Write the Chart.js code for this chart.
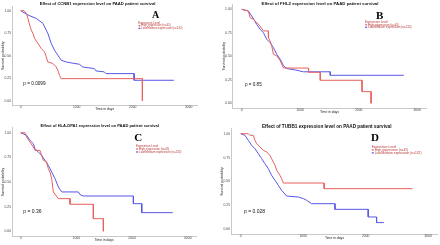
<!DOCTYPE html>
<html>
<head>
<meta charset="utf-8">
<script src="https://cdn.jsdelivr.net/npm/chart.js@4.4.0/dist/chart.umd.min.js"></script>
<style>
html, body { margin: 0; padding: 0; background: #fff; }
#wrap { position: relative; width: 440px; height: 245px; overflow: hidden; background: #fff; }
#wrap canvas { position: absolute; }
</style>
</head>
<body>
<div id="wrap">
    <canvas id="panelA" width="220" height="122" style="left:0;top:0"></canvas>
    <canvas id="panelB" width="220" height="122" style="left:220px;top:0"></canvas>
    <canvas id="panelC" width="220" height="123" style="left:0;top:122px"></canvas>
    <canvas id="panelD" width="220" height="123" style="left:220px;top:122px"></canvas>
</div>
<script>
// axis ticks
const yTicks = [0, 0.25, 0.5, 0.75, 1];
const xTicks = [0, 1000, 2000, 3000];

const genes = ['CCNB1', 'FHL2', 'HLA-DPA1', 'TUBB1'];
const panelLetters = ['A', 'B', 'C', 'D'];
const pValues = ['0.0099', '0.85', '0.36', '0.028'];
const seriesLabels = ['High expression (n=45)', 'Low/Medium expression (n=132)'];

// CCNB1
const ccnb1HighTime = [0, 60, 101, 130, 160, 189, 219, 249, 308, 367, 426, 456, 485, 574, 634, 663, 693, 722, 2173, 2173];
const ccnb1HighSurv = [1, 1, 0.97, 0.914, 0.84, 0.784, 0.747, 0.691, 0.636, 0.58, 0.543, 0.487, 0.431, 0.413, 0.375, 0.338, 0.283, 0.245, 0.245, 0];
const ccnb1LowTime = [0, 130, 278, 397, 485, 545, 604, 663, 722, 811, 900, 1048, 1107, 1314, 1344, 1492, 1522, 2025, 2025, 2735];
const ccnb1LowSurv = [1, 0.952, 0.914, 0.859, 0.747, 0.636, 0.561, 0.506, 0.45, 0.431, 0.42, 0.405, 0.375, 0.357, 0.331, 0.32, 0.301, 0.301, 0.227, 0.227];

// FHL2
const fhl2HighTime = [0, 114, 143, 200, 257, 314, 371, 457, 457, 486, 514, 543, 600, 657, 714, 1143, 1143, 1343, 1343, 2057, 2057, 2211, 2211];
const fhl2HighSurv = [1, 0.982, 0.911, 0.894, 0.858, 0.823, 0.77, 0.77, 0.699, 0.663, 0.61, 0.521, 0.504, 0.455, 0.375, 0.375, 0.33, 0.33, 0.245, 0.245, 0.124, 0.124, 0];
const fhl2LowTime = [0, 114, 171, 257, 314, 371, 429, 486, 543, 600, 657, 714, 771, 914, 1057, 1514, 1514, 2771];
const fhl2LowSurv = [1, 0.982, 0.929, 0.84, 0.787, 0.752, 0.681, 0.645, 0.592, 0.521, 0.47, 0.4, 0.37, 0.355, 0.335, 0.335, 0.298, 0.298];

// HLA-DPA1
const hlaHighTime = [0, 78, 108, 168, 228, 257, 347, 377, 407, 467, 497, 527, 557, 587, 677, 886, 886, 1305, 1305, 1485, 1485];
const hlaHighSurv = [1, 1, 0.956, 0.905, 0.855, 0.821, 0.821, 0.77, 0.72, 0.703, 0.635, 0.601, 0.534, 0.399, 0.331, 0.331, 0.274, 0.274, 0.128, 0.128, 0];
const hlaLowTime = [0, 108, 168, 228, 257, 317, 377, 437, 497, 557, 617, 677, 737, 1036, 1066, 1126, 2024, 2024, 2174, 2174, 2731];
const hlaLowSurv = [1, 0.973, 0.922, 0.889, 0.838, 0.804, 0.77, 0.72, 0.669, 0.601, 0.534, 0.449, 0.399, 0.399, 0.372, 0.358, 0.358, 0.28, 0.28, 0.189, 0.189];

// TUBB1
const tubb1HighTime = [0, 123, 149, 202, 229, 256, 309, 362, 416, 469, 495, 522, 549, 575, 629, 655, 682, 1335, 1335, 2749];
const tubb1HighSurv = [1, 1, 0.983, 0.983, 0.93, 0.895, 0.861, 0.826, 0.808, 0.774, 0.739, 0.704, 0.669, 0.617, 0.564, 0.53, 0.484, 0.484, 0.425, 0.425];
const tubb1LowTime = [0, 69, 123, 176, 229, 282, 336, 389, 442, 495, 549, 602, 655, 735, 922, 1002, 1055, 1135, 1508, 1508, 2040, 2040, 2174, 2174, 2291];
const tubb1LowSurv = [1, 0.983, 0.93, 0.878, 0.843, 0.791, 0.739, 0.686, 0.634, 0.564, 0.512, 0.46, 0.408, 0.348, 0.338, 0.321, 0.303, 0.268, 0.268, 0.209, 0.209, 0.129, 0.129, 0.07, 0.07];

const highColor = '#e8605c';
const lowColor = '#5757e6';
const legendTextColor = '#b83a3a';
const sansFamily = '"Liberation Sans", Arial, sans-serif';
const serifFamily = '"Liberation Serif", "Times New Roman", serif';

// layout of each panel (canvas pixels)
const panels = [
    {
        id: 'panelA', high: [ccnb1HighTime, ccnb1HighSurv], low: [ccnb1LowTime, ccnb1LowSurv],
        area: { left: 12.3, right: 197.1, top: 6.2, bottom: 105.2 },
        title: { x: 97.5, y: 4, w: 116 }, letter: { x: 155.5, y: 15, size: 10 },
        legend: { x: 138.3, y: 23, w: 44.4, dy: 2.7 }, pval: { x: 23.3, y: 83.3, w: 22.3 }
    },
    {
        id: 'panelB', high: [fhl2HighTime, fhl2HighSurv], low: [fhl2LowTime, fhl2LowSurv],
        area: { left: 12.9, right: 206, top: 4.6, bottom: 108 },
        title: { x: 100, y: 3.5, w: 117 }, letter: { x: 159.7, y: 15.5, size: 11 },
        legend: { x: 145, y: 22.3, w: 46.7, dy: 2.5 }, pval: { x: 25, y: 85, w: 16.7 }
    },
    {
        id: 'panelC', high: [hlaHighTime, hlaHighSurv], low: [hlaLowTime, hlaLowSurv],
        area: { left: 12.3, right: 196.1, top: 5.8, bottom: 114.2 },
        title: { x: 99.7, y: 4, w: 119 }, letter: { x: 138.3, y: 15.5, size: 11 },
        legend: { x: 136, y: 24, w: 45.7, dy: 3 }, pval: { x: 23.3, y: 90, w: 18.3 }
    },
    {
        id: 'panelD', high: [tubb1HighTime, tubb1HighSurv], low: [tubb1LowTime, tubb1LowSurv],
        area: { left: 11.3, right: 217.6, top: 6.9, bottom: 112.1 },
        title: { x: 106.7, y: 5, w: 130 }, letter: { x: 155, y: 15.5, size: 11 },
        legend: { x: 151.7, y: 25, w: 50, dy: 2.9 }, pval: { x: 24, y: 89.3, w: 21 }
    }
];

function toPoints(times, surv) {
    return times.map((t, i) => ({ x: t, y: surv[i] }));
}

// font size that makes text span the given width
function fitFont(ctx, text, weight, family, width) {
    ctx.font = weight + ' 10px ' + family;
    return 10 * width / ctx.measureText(text).width;
}

const panelText = {
    id: 'panelText',
    afterDraw(chart, args, opts) {
        const ctx = chart.ctx;
        const p = opts.panel;
        const i = opts.index;
        const area = chart.chartArea;
        ctx.save();
        ctx.textBaseline = 'middle';

        // title
        const title = 'Effect of ' + genes[i] + ' expression level on PAAD patient survival';
        let size = fitFont(ctx, title, 'bold', sansFamily, p.title.w);
        ctx.font = 'bold ' + size + 'px ' + sansFamily;
        ctx.fillStyle = '#111';
        ctx.textAlign = 'center';
        ctx.fillText(title, p.title.x, p.title.y);

        // panel letter
        ctx.font = 'bold ' + p.letter.size + 'px ' + serifFamily;
        ctx.fillStyle = '#000';
        ctx.fillText(panelLetters[i], p.letter.x, p.letter.y + 0.5);

        // axis titles
        ctx.font = '3.4px ' + sansFamily;
        ctx.fillStyle = '#222';
        ctx.fillText('Time in days', (area.left + area.right) / 2, area.bottom + 4.3);
        ctx.save();
        ctx.translate(area.left - 9.2, (area.top + area.bottom) / 2);
        ctx.rotate(-Math.PI / 2);
        ctx.fillText('Survival probability', 0, 0);
        ctx.restore();

        // p value
        size = fitFont(ctx, 'p = ' + pValues[i], 'normal', sansFamily, p.pval.w);
        ctx.font = size + 'px ' + sansFamily;
        ctx.fillStyle = '#111';
        ctx.textAlign = 'left';
        ctx.fillText('p = ' + pValues[i], p.pval.x, p.pval.y);

        // legend
        const lg = p.legend;
        size = fitFont(ctx, seriesLabels[1], 'normal', sansFamily, lg.w - 3);
        ctx.font = size + 'px ' + sansFamily;
        ctx.fillStyle = legendTextColor;
        ctx.fillText('Expression Level', lg.x, lg.y);
        [highColor, lowColor].forEach((color, k) => {
            const y = lg.y + lg.dy * (k + 1);
            ctx.strokeStyle = color;
            ctx.lineWidth = 0.8;
            ctx.beginPath();
            ctx.moveTo(lg.x, y);
            ctx.lineTo(lg.x + 2.2, y);
            ctx.moveTo(lg.x + 1.1, y - 0.8);
            ctx.lineTo(lg.x + 1.1, y + 0.8);
            ctx.stroke();
            ctx.fillStyle = legendTextColor;
            ctx.fillText(seriesLabels[k], lg.x + 3, y);
        });
        ctx.restore();
    }
};

const tickFont = { family: sansFamily, size: 3.4 };

panels.forEach((p, i) => {
    const canvas = document.getElementById(p.id);
    const xAxisHeight = canvas.height - p.area.bottom;
    new Chart(canvas, {
        type: 'line',
        data: {
            datasets: [
                { label: seriesLabels[0], data: toPoints(p.high[0], p.high[1]), borderColor: highColor },
                { label: seriesLabels[1], data: toPoints(p.low[0], p.low[1]), borderColor: lowColor }
            ]
        },
        options: {
            responsive: false,
            animation: false,
            events: [],
            // the axes own the margin boxes so their labels are not clipped
            layout: {
                padding: { left: 0, right: canvas.width - p.area.right, top: p.area.top, bottom: 0 }
            },
            elements: {
                line: { borderWidth: 1, tension: 0, fill: false },
                point: { radius: 0 }
            },
            plugins: {
                legend: { display: false },
                tooltip: { enabled: false },
                panelText: { panel: p, index: i }
            },
            scales: {
                x: {
                    type: 'linear',
                    min: -150,
                    max: 3150,
                    afterFit: s => { s.height = xAxisHeight; },
                    afterBuildTicks: s => { s.ticks = xTicks.map(v => ({ value: v })); },
                    grid: { display: false, drawTicks: false },
                    border: { display: true, color: '#c9c9c9', width: 1 },
                    ticks: { font: tickFont, color: '#444', padding: 0.3, maxRotation: 0, autoSkip: false, callback: v => String(v) }
                },
                y: {
                    type: 'linear',
                    min: -0.05,
                    max: 1.05,
                    afterFit: s => { s.width = p.area.left; },
                    afterBuildTicks: s => { s.ticks = yTicks.map(v => ({ value: v })); },
                    grid: { display: false, drawTicks: false },
                    border: { display: true, color: '#c9c9c9', width: 1 },
                    ticks: { font: tickFont, color: '#444', padding: 1.2, autoSkip: false, callback: v => v.toFixed(2) }
                }
            }
        },
        plugins: [panelText]
    });
});
</script>
</body>
</html>
